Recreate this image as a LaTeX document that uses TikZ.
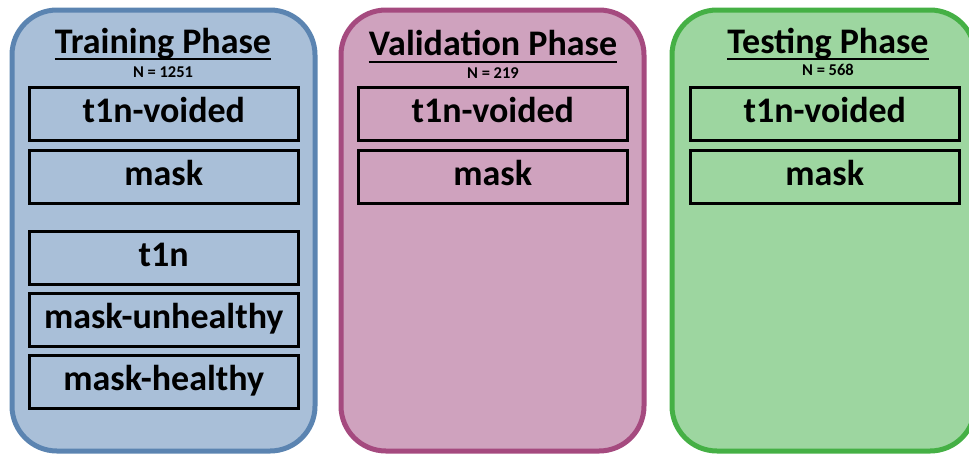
\documentclass[tikz,border=0pt]{standalone}
\usepackage{fontspec}
\setmainfont{Carlito}
\definecolor{bfill}{HTML}{A9BFD8}
\definecolor{bdraw}{HTML}{5B84B1}
\definecolor{pfill}{HTML}{CFA2BE}
\definecolor{pdraw}{HTML}{A54A7F}
\definecolor{gfill}{HTML}{9DD6A0}
\definecolor{gdraw}{HTML}{45B045}
\begin{document}
\begin{tikzpicture}[x=1pt,y=-1pt,
  panel/.style={line width=5pt,rounded corners=45pt},
  item/.style={draw=black,line width=2.5pt,minimum width=269pt,minimum height=53pt,inner sep=0pt,text height=25pt,text depth=7pt,anchor=north west,font=\fontsize{36}{38}\selectfont\bfseries},
  ptitle/.style={font=\fontsize{36}{38}\selectfont\bfseries,inner sep=0pt,anchor=base},
  pcount/.style={font=\fontsize{16.5}{18}\selectfont\bfseries,inner sep=0pt,anchor=base},
  uline/.style={draw=black,line width=2pt}]
\useasboundingbox (0,0) rectangle (969,456);
\begin{scope}
\clip (0,0) rectangle (969,456);
\draw[panel,fill=bfill,draw=bdraw] (12,10) rectangle (315,451);
\draw[panel,fill=pfill,draw=pdraw] (341,10) rectangle (644,451);
\draw[panel,fill=gfill,draw=gdraw] (672,10) rectangle (975,451);
\end{scope}
% titles
\node[ptitle] (t1) at (163,53) {Training Phase};
\node[pcount] (n1) at (163,77) {N = 1251};
\node[ptitle] (t2) at (493,55) {Validation Phase};
\node[pcount] (n2) at (493,78) {N = 219};
\node[ptitle] (t3) at (828,53) {Testing Phase};
\node[pcount] (n3) at (828,75) {N = 568};
\draw[uline] ([yshift=-6pt]t1.base west) -- ([yshift=-6pt]t1.base east);
\draw[uline] ([yshift=-7pt]t2.base west) -- ([yshift=-7pt]t2.base east);
\draw[uline] ([yshift=-6pt]t3.base west) -- ([yshift=-6pt]t3.base east);
% training
\node[item] (a1) at (28,86) {t1n-voided};
\node[item] (a2) at (28,149) {mask};
\node[item] (a3) at (28,230) {t1n};
\node[item] (a4) at (28,292) {mask-unhealthy};
\node[item] (a5) at (28,354) {mask-healthy};
% validation
\node[item] (b1) at (357,86) {t1n-voided};
\node[item] (b2) at (357,149) {mask};
% testing
\node[item] (c1) at (689,86) {t1n-voided};
\node[item] (c2) at (689,149) {mask};
\end{tikzpicture}
\end{document}
